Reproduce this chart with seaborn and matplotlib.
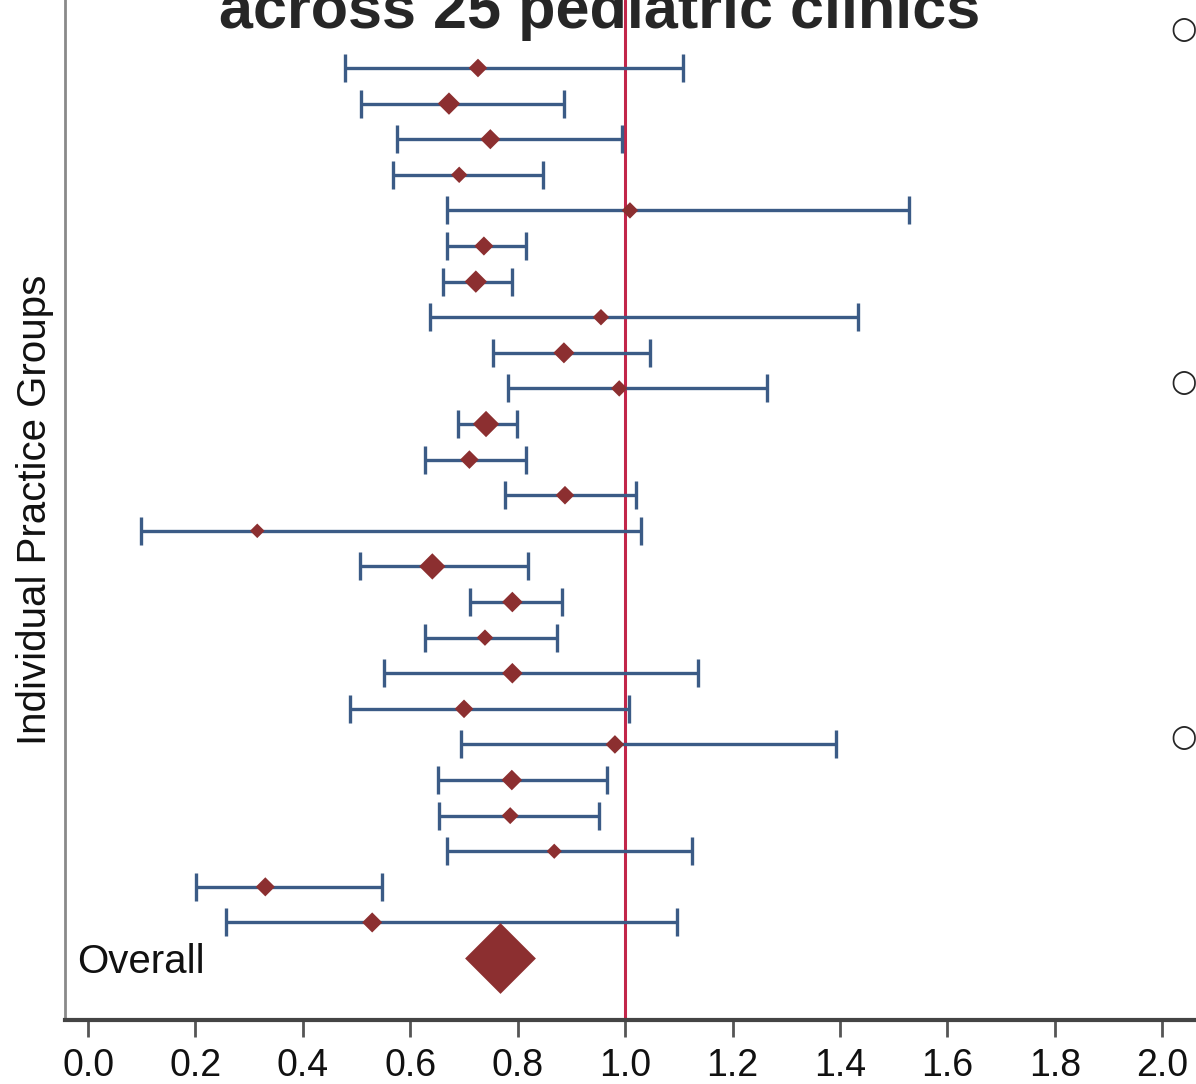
import numpy as np
import pandas as pd
import seaborn as sns
import matplotlib.pyplot as plt

# forest plot values, top row first
group = [f"Group {i}" for i in range(1, 26)]
lower = [0.479, 0.509, 0.575, 0.568, 0.668, 0.668, 0.661, 0.637, 0.754, 0.782,
         0.689, 0.628, 0.777, 0.099, 0.507, 0.711, 0.628, 0.551, 0.488, 0.695,
         0.652, 0.654, 0.668, 0.201, 0.257]
estimate = [0.726, 0.672, 0.749, 0.691, 1.009, 0.737, 0.722, 0.955, 0.886, 0.989,
            0.741, 0.710, 0.888, 0.315, 0.641, 0.790, 0.739, 0.790, 0.700, 0.981,
            0.789, 0.786, 0.868, 0.330, 0.529]
upper = [1.108, 0.886, 0.994, 0.847, 1.529, 0.816, 0.790, 1.434, 1.047, 1.264,
         0.799, 0.816, 1.020, 1.030, 0.819, 0.883, 0.873, 1.136, 1.008, 1.393,
         0.966, 0.952, 1.125, 0.547, 1.097]
weight = [90, 130, 105, 70, 70, 95, 130, 70, 115, 70,
          180, 90, 90, 55, 180, 110, 70, 110, 90, 90,
          110, 75, 60, 95, 105]
overall_est = 0.767
xticks = [0.0, 0.2, 0.4, 0.6, 0.8, 1.0, 1.2, 1.4, 1.6, 1.8, 2.0]

df = pd.DataFrame({"group": group, "lo": lower, "est": estimate,
                   "hi": upper, "w": weight})
df["row"] = np.arange(len(df))

sns.set_theme(style="white")
plt.rcParams["font.family"] = ["Liberation Sans", "DejaVu Sans"]

fig = plt.figure(figsize=(11.96, 10.84), dpi=100)
ax = fig.add_axes([65 / 1196, 64 / 1084, 1131 / 1196, 1020 / 1084])

blue = "#3b5b86"
red = "#8c2f30"

ax.axvline(1.0, color="#c2264a", lw=2.2, zorder=1)
ax.errorbar(df["est"], df["row"],
            xerr=[df["est"] - df["lo"], df["hi"] - df["est"]],
            fmt="none", ecolor=blue, elinewidth=2.4, capsize=10,
            capthick=2.4, zorder=2)
sns.scatterplot(data=df, x="est", y="row", size="w",
                sizes=(min(weight), max(weight)), marker="D", color=red,
                edgecolor=red, linewidth=0, legend=False, ax=ax, zorder=3)
ax.scatter([overall_est], [len(df)], marker="D", s=1300, color=red,
           edgecolor=red, linewidth=0, zorder=3)
ax.text(-0.02, len(df) + 0.1, "Overall", fontsize=29, va="center",
        ha="left", color="#111111")

ax.set_xlim(-0.043, 2.063)
ax.set_ylim(26.74, -1.91)
ax.set_xticks(xticks)
ax.set_xticklabels([f"{t:.1f}" for t in xticks], fontsize=27, color="#111111")
ax.set_yticks([])
ax.set_xlabel("")
ax.set_ylabel("Individual Practice Groups", fontsize=29, labelpad=8,
              color="#111111")
ax.tick_params(axis="x", direction="out", length=12, width=2,
               color="#555555", pad=8, bottom=True)
sns.despine(ax=ax, top=True, right=True)
ax.spines["left"].set_color("#8a8a8a")
ax.spines["left"].set_linewidth(2)
ax.spines["bottom"].set_color("#444444")
ax.spines["bottom"].set_linewidth(3)

fig.text(600 / 1196, 1 - 28 / 1084, "across 25 pediatric clinics",
         fontsize=44, fontweight="bold", ha="center", va="baseline")
for yb in [30, 383, 737]:
    fig.text(1170 / 1196, 1 - yb / 1084, "○", fontsize=22, ha="left",
             va="center", family=["DejaVu Sans"])

fig.savefig("out.png", dpi=100, facecolor="white")
